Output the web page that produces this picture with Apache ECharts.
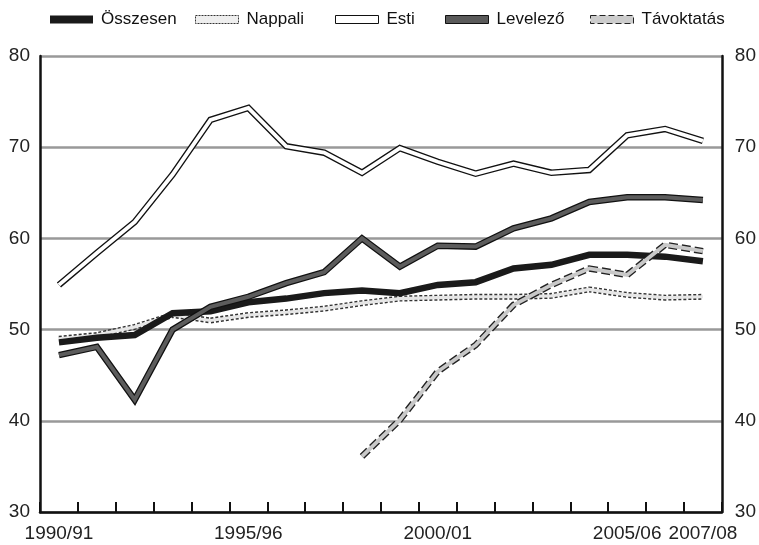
<!DOCTYPE html>
<html>
<head>
<meta charset="utf-8">
<script src="https://cdn.jsdelivr.net/npm/echarts@6/dist/echarts.min.js"></script>
<style>html,body{margin:0;padding:0;background:#fff;}#c{width:759px;height:545px;}</style>
</head>
<body>
<div id="c"></div>
<script>
var categories = ['1990/91','1991/92','1992/93','1993/94','1994/95','1995/96','1996/97','1997/98','1998/99','1999/00','2000/01','2001/02','2002/03','2003/04','2004/05','2005/06','2006/07','2007/08'];
var shownLabels = ['1990/91','1995/96','2000/01','2005/06','2007/08'];
var osszesen = [48.6,49.1,49.4,51.8,52.0,53.0,53.4,54.0,54.3,54.0,54.9,55.2,56.7,57.1,58.2,58.2,58.0,57.5];
var nappali = [49.0,49.4,50.3,51.6,51.0,51.6,51.9,52.3,52.9,53.4,53.5,53.6,53.6,53.7,54.4,53.8,53.5,53.6];
var esti = [54.9,58.4,61.8,67.0,73.0,74.3,70.1,69.4,67.2,69.9,68.4,67.1,68.2,67.2,67.5,71.3,72.0,70.7];
var levelezo = [47.2,48.1,42.3,50.0,52.5,53.6,55.1,56.3,60.0,56.9,59.2,59.1,61.1,62.2,64.0,64.5,64.5,64.2];
var tavoktatas = [null,null,null,null,null,null,null,null,36.1,40.1,45.4,48.3,52.7,54.9,56.7,56.0,59.3,58.6];

var FONT = '"Liberation Sans", Arial, sans-serif';
var chart = echarts.init(document.getElementById('c'), null, {renderer:'canvas'});

function legend(name, left, itemStyle) {
  return {
    left: left, top: 6, itemWidth: 43, itemHeight: 8, itemGap: 0,
    textStyle: {fontFamily: FONT, fontSize: 17, color: '#111', padding: [0, 0, 0, 3]},
    selectedMode: false,
    data: [{name: name, icon: 'rect', itemStyle: itemStyle}]
  };
}
function line(name, data, color, width, type, z) {
  return {
    name: name, type: 'line', data: data, symbol: 'none', z: z,
    connectNulls: false, silent: true,
    lineStyle: {color: color, width: width, type: type || 'solid', join: 'miter', cap: 'butt'}
  };
}

chart.setOption({
  animation: false,
  backgroundColor: '#fff',
  legend: [
    legend('Összesen', 45, {color: '#1a1a1a', borderWidth: 0}),
    legend('Nappali', 190, {color: '#eeeeee', borderColor: '#333', borderWidth: 1, borderType: [2, 1]}),
    legend('Esti', 330, {color: '#ffffff', borderColor: '#111', borderWidth: 1}),
    legend('Levelező', 440, {color: '#5a5a5a', borderColor: '#111', borderWidth: 1}),
    legend('Távoktatás', 585, {color: '#cccccc', borderColor: '#222', borderWidth: 1, borderType: [6, 3]})
  ],
  grid: {left: 40, right: 35, top: 56, bottom: 33},
  xAxis: {
    type: 'category', data: categories, boundaryGap: true,
    axisLine: {lineStyle: {color: '#111', width: 2.5}},
    axisTick: {show: true, inside: true, length: 10, interval: 0, lineStyle: {color: '#111', width: 2}},
    axisLabel: {
      interval: 0, margin: 12, fontFamily: FONT, fontSize: 19, color: '#222',
      formatter: function (v) { return shownLabels.indexOf(v) >= 0 ? v : ''; }
    },
    splitLine: {show: false}
  },
  yAxis: [
    {
      type: 'value', min: 30, max: 80, interval: 10, position: 'left',
      axisLine: {show: true, lineStyle: {color: '#111', width: 2.5}},
      axisTick: {show: false},
      axisLabel: {margin: 10, fontFamily: FONT, fontSize: 19, color: '#222'},
      splitLine: {show: true, lineStyle: {color: '#999', width: 2.5}}
    },
    {
      type: 'value', min: 30, max: 80, interval: 10, position: 'right',
      axisLine: {show: true, lineStyle: {color: '#111', width: 2.5}},
      axisTick: {show: false},
      axisLabel: {margin: 13, fontFamily: FONT, fontSize: 19, color: '#222'},
      splitLine: {show: false}
    }
  ],
  series: [
    line('Nappali', nappali, '#333', 6, [3, 2], 2),
    line('Nappali_in', nappali, '#e6e6e6', 3.2, 'solid', 3),
    line('Összesen', osszesen, '#1a1a1a', 6.5, 'solid', 4),
    line('Levelező', levelezo, '#111', 6.5, 'solid', 5),
    line('Levelező_in', levelezo, '#5c5c5c', 4, 'solid', 6),
    line('Távoktatás', tavoktatas, '#222', 6.5, [9, 4], 7),
    line('Távoktatás_in', tavoktatas, '#c8c8c8', 3.8, 'solid', 8),
    line('Esti', esti, '#111', 6.5, 'solid', 9),
    line('Esti_in', esti, '#ffffff', 3.8, 'solid', 10)
  ]
});
</script>
</body>
</html>
